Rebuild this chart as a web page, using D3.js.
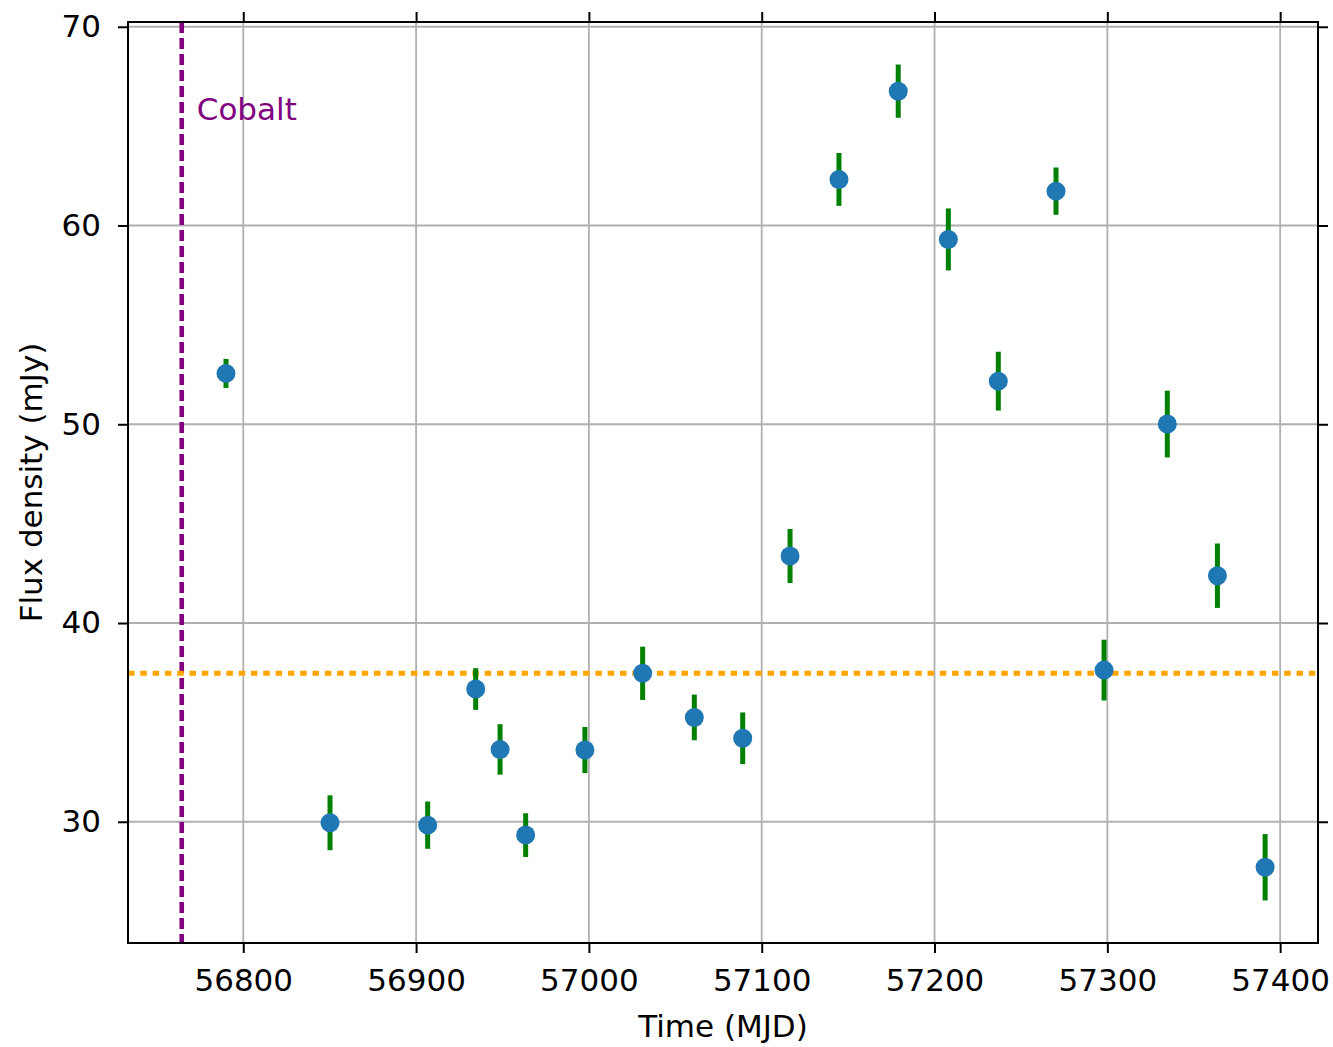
<!DOCTYPE html>
<html>
<head>
<meta charset="utf-8">
<script src="https://cdn.jsdelivr.net/npm/d3@7"></script>
<style>
  html, body { margin: 0; padding: 0; background: #fff; }
  svg { display: block; font-family: "DejaVu Sans", sans-serif; }
</style>
</head>
<body>
<svg id="chart" width="1333" height="1047"></svg>
<script>
// Observation epochs (MJD), flux densities (mJy) and 1-sigma errors
const mjd = [56790.0, 56850.2, 56906.7, 56934.5, 56948.6, 56963.4, 56997.7, 57031.1,
             57061.0, 57089.0, 57116.4, 57144.7, 57179.0, 57208.0, 57236.9, 57270.3,
             57298.1, 57334.7, 57363.7, 57391.3];
const flux = [52.56, 29.95, 29.83, 36.68, 33.64, 29.33, 33.61, 37.47,
              35.25, 34.20, 43.37, 62.32, 66.76, 59.30, 52.17, 61.73,
              37.63, 50.01, 42.38, 27.71];
const fluxErr = [0.73, 1.38, 1.19, 1.05, 1.27, 1.10, 1.16, 1.34,
                 1.15, 1.30, 1.36, 1.33, 1.34, 1.56, 1.48, 1.19,
                 1.53, 1.68, 1.62, 1.67];

// Reference markers
const cobaltMJD = 56764.4;
const cobaltLabel = "Cobalt";
const meanFlux = 37.47;

// Axis ticks and domains
const xTicks = [56800, 56900, 57000, 57100, 57200, 57300, 57400];
const yTicks = [30, 40, 50, 60, 70];
const xDomain = [56733.3, 57421.9];
const yDomain = [23.9, 70.24];
const xTitle = "Time (MJD)";
const yTitle = "Flux density (mJy)";

const svg = d3.select("#chart");
const plot = { left: 128, right: 1318, top: 22, bottom: 943 };
const FS = 31;

const x = d3.scaleLinear().domain(xDomain).range([plot.left, plot.right]);
const y = d3.scaleLinear().domain(yDomain).range([plot.bottom, plot.top]);

svg.append("rect").attr("width", 1333).attr("height", 1047).attr("fill", "#fff");

svg.append("defs").append("clipPath").attr("id", "plotClip")
  .append("rect")
  .attr("x", plot.left).attr("y", plot.top)
  .attr("width", plot.right - plot.left).attr("height", plot.bottom - plot.top);

// Grid
const grid = svg.append("g").attr("stroke", "#b0b0b0").attr("stroke-width", 1.8);
grid.selectAll("line.gx").data(xTicks).join("line")
  .attr("x1", d => x(d)).attr("x2", d => x(d))
  .attr("y1", plot.top).attr("y2", plot.bottom);
grid.selectAll("line.gy").data(yTicks).join("line")
  .attr("x1", plot.left).attr("x2", plot.right)
  .attr("y1", d => y(d)).attr("y2", d => y(d));

const layer = svg.append("g").attr("clip-path", "url(#plotClip)");

// Cobalt epoch
layer.append("line")
  .attr("x1", x(cobaltMJD)).attr("x2", x(cobaltMJD))
  .attr("y1", plot.top).attr("y2", plot.bottom)
  .attr("stroke", "#800080").attr("stroke-width", 4.6)
  .attr("stroke-dasharray", "11,5");

// Mean flux level
layer.append("line")
  .attr("x1", plot.left).attr("x2", plot.right)
  .attr("y1", y(meanFlux)).attr("y2", y(meanFlux))
  .attr("stroke", "#ffa500").attr("stroke-width", 5)
  .attr("stroke-dasharray", "6.5,5.8");

const pts = mjd.map((m, i) => ({ m, f: flux[i], e: fluxErr[i] }));

// Error bars
layer.selectAll("line.err").data(pts).join("line")
  .attr("class", "err")
  .attr("x1", d => x(d.m)).attr("x2", d => x(d.m))
  .attr("y1", d => y(d.f - d.e)).attr("y2", d => y(d.f + d.e))
  .attr("stroke", "#008000").attr("stroke-width", 5);

// Markers
layer.selectAll("circle.pt").data(pts).join("circle")
  .attr("class", "pt")
  .attr("cx", d => x(d.m)).attr("cy", d => y(d.f))
  .attr("r", 9.5).attr("fill", "#1f77b4");

// Cobalt label
svg.append("text")
  .attr("x", x(cobaltMJD) + 15).attr("y", 120)
  .attr("fill", "#800080").attr("font-size", FS)
  .text(cobaltLabel);

// Axes
function styleAxis(g) {
  g.select(".domain").remove();
  g.selectAll(".tick line").attr("stroke", "#000").attr("stroke-width", 2);
  g.selectAll(".tick text").attr("fill", "#000").attr("font-size", FS)
    .attr("font-family", "DejaVu Sans, sans-serif");
}

svg.append("g").attr("transform", `translate(0,${plot.bottom})`)
  .call(d3.axisBottom(x).tickValues(xTicks).tickFormat(d3.format("d"))
    .tickSize(10).tickPadding(16))
  .call(styleAxis);

svg.append("g").attr("transform", `translate(0,${plot.top})`)
  .call(d3.axisTop(x).tickValues(xTicks).tickFormat("").tickSize(10))
  .call(styleAxis);

svg.append("g").attr("transform", `translate(${plot.left},0)`)
  .call(d3.axisLeft(y).tickValues(yTicks).tickFormat(d3.format("d"))
    .tickSize(10).tickPadding(17))
  .call(styleAxis);

svg.append("g").attr("transform", `translate(${plot.right},0)`)
  .call(d3.axisRight(y).tickValues(yTicks).tickFormat("").tickSize(10))
  .call(styleAxis);

// Frame
svg.append("rect")
  .attr("x", plot.left).attr("y", plot.top)
  .attr("width", plot.right - plot.left).attr("height", plot.bottom - plot.top)
  .attr("fill", "none").attr("stroke", "#000").attr("stroke-width", 2);

// Axis titles
svg.append("text")
  .attr("x", (plot.left + plot.right) / 2).attr("y", 1037)
  .attr("text-anchor", "middle").attr("font-size", FS).attr("fill", "#000")
  .text(xTitle);

svg.append("text")
  .attr("transform", `translate(41.5,${(plot.top + plot.bottom) / 2}) rotate(-90)`)
  .attr("text-anchor", "middle").attr("font-size", FS).attr("fill", "#000")
  .text(yTitle);
</script>
</body>
</html>
